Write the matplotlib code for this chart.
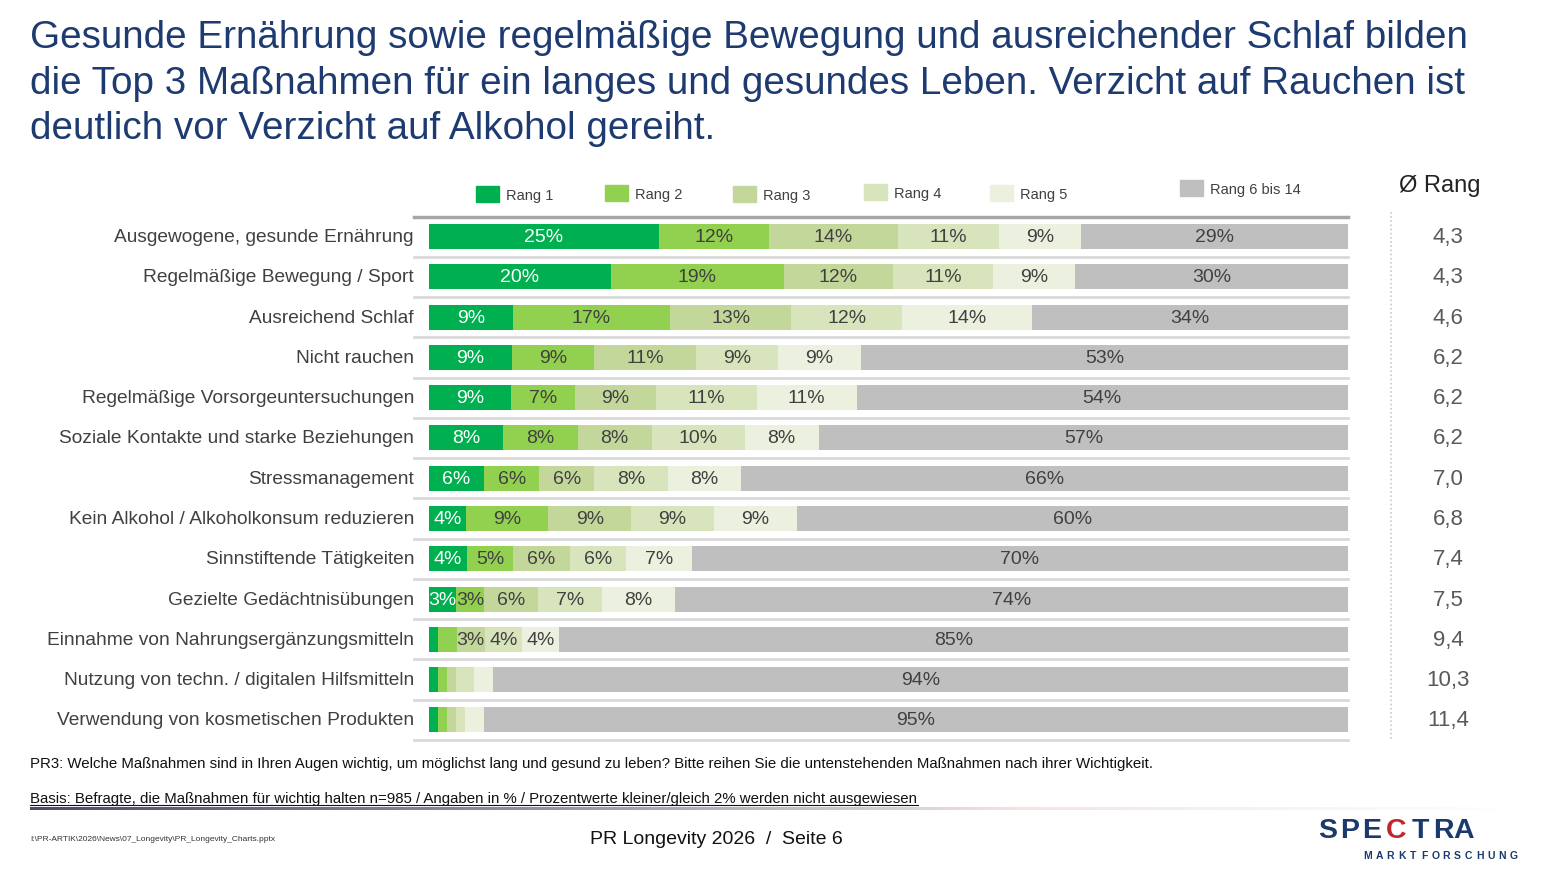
import numpy as np
import matplotlib
matplotlib.use("Agg")
from matplotlib import pyplot as plt
from matplotlib.patches import Rectangle
from matplotlib.colors import LinearSegmentedColormap

plt.rcParams['font.family'] = ['Liberation Sans', 'DejaVu Sans']

W, H = 1547, 870

categories = [
    "Ausgewogene, gesunde Ernährung",
    "Regelmäßige Bewegung / Sport",
    "Ausreichend Schlaf",
    "Nicht rauchen",
    "Regelmäßige Vorsorgeuntersuchungen",
    "Soziale Kontakte und starke Beziehungen",
    "Stressmanagement",
    "Kein Alkohol / Alkoholkonsum reduzieren",
    "Sinnstiftende Tätigkeiten",
    "Gezielte Gedächtnisübungen",
    "Einnahme von Nahrungsergänzungsmitteln",
    "Nutzung von techn. / digitalen Hilfsmitteln",
    "Verwendung von kosmetischen Produkten",
]
rang1 = [25, 20, 9, 9, 9, 8, 6, 4, 4, 3, 1, 1, 1]
rang2 = [12, 19, 17, 9, 7, 8, 6, 9, 5, 3, 2, 1, 1]
rang3 = [14, 12, 13, 11, 9, 8, 6, 9, 6, 6, 3, 1, 1]
rang4 = [11, 11, 12, 9, 11, 10, 8, 9, 6, 7, 4, 2, 1]
rang5 = [9, 9, 14, 9, 11, 8, 8, 9, 7, 8, 4, 2, 2]
rang6_14 = [29, 30, 34, 53, 54, 57, 66, 60, 70, 74, 85, 94, 95]
avg_rang = ["4,3", "4,3", "4,6", "6,2", "6,2", "6,2", "7,0", "6,8", "7,4", "7,5", "9,4", "10,3", "11,4"]

series_names = ["Rang 1", "Rang 2", "Rang 3", "Rang 4", "Rang 5", "Rang 6 bis 14"]
colors = ["#00B050", "#92D050", "#C4D79B", "#D8E4BC", "#EBF1DE", "#BFBFBF"]
text_colors = ["white", "#404040", "#404040", "#404040", "#404040", "#404040"]


def px(x, y):
    return x / W, 1 - y / H


fig = plt.figure(figsize=(W / 100, H / 100), dpi=100)

# title
title = ("Gesunde Ernährung sowie regelmäßige Bewegung und ausreichender Schlaf bilden\n"
         "die Top 3 Maßnahmen für ein langes und gesundes Leben. Verzicht auf Rauchen ist\n"
         "deutlich vor Verzicht auf Alkohol gereiht.")
fig.text(*px(30, 20), title, fontsize=27.8, color="#1D3B70", va="top", ha="left",
         linespacing=1.34)

# bar axes
top_px, bot_px = 217.5, 741.0
l, b = px(429, bot_px)
ax = fig.add_axes([l, b, 919 / W, (bot_px - top_px) / H])
series = [rang1, rang2, rang3, rang4, rang5, rang6_14]
data = np.array(series, dtype=float)
totals = data.sum(axis=0)
y = np.arange(len(categories))
left = np.zeros(len(categories))
for k, vals in enumerate(series):
    widths = np.array(vals) / totals * 100
    ax.barh(y, widths, left=left, height=0.62, color=colors[k], linewidth=0)
    for i, v in enumerate(vals):
        if v > 2:
            ax.text(left[i] + widths[i] / 2, y[i], f"{v}%", ha="center", va="center",
                    fontsize=14, color=text_colors[k])
    left += widths

ax.set_xlim(0, 100)
ax.set_ylim(len(categories) - 0.5, -0.5)
ax.axis("off")

ext = -15 / 919
for i in range(len(categories)):
    ax.axhline(i + 0.5, xmin=ext, xmax=1, color="#D9D9D9", lw=2, clip_on=False, zorder=0)
ax.axhline(-0.5, xmin=ext, xmax=1, color="#A6A6A6", lw=2.5, clip_on=False, zorder=3)

for i, cat in enumerate(categories):
    ax.annotate(cat, xy=(0, y[i]), xycoords=("axes fraction", "data"),
                xytext=(-15, 0), textcoords="offset pixels",
                ha="right", va="center", fontsize=13.8, color="#404040")

# average rank column
for i, r in enumerate(avg_rang):
    ax.annotate(r, xy=(1, y[i]), xycoords=("axes fraction", "data"),
                xytext=(100, 0), textcoords="offset pixels",
                ha="center", va="center", fontsize=16, color="#595959")
fig.text(*px(1440, 186), "Ø Rang", fontsize=17, color="#222222", ha="center", va="center")
fig.add_artist(plt.Line2D([1391 / W, 1391 / W], [1 - 213 / H, 1 - 740 / H],
                          color="#C8C8C8", lw=1.2, ls=(0, (1, 1.5))))

# legend
legend_pos = [(476, 187), (605, 186), (733, 187), (864, 185), (990, 186), (1180, 181)]
for k, name in enumerate(series_names):
    x0, y0 = legend_pos[k]
    fig.add_artist(Rectangle(px(x0, y0 + 16), 23 / W, 16 / H, color=colors[k],
                             transform=fig.transFigure))
    fig.text(*px(x0 + 30, y0 + 9), name, fontsize=10.5, color="#404040", ha="left", va="center")

# footer
fig.text(*px(30, 764), "PR3: Welche Maßnahmen sind in Ihren Augen wichtig, um möglichst lang und "
         "gesund zu leben? Bitte reihen Sie die untenstehenden Maßnahmen nach ihrer Wichtigkeit.",
         fontsize=10.8, color="#111111", ha="left", va="center")
fig.text(*px(30, 799), "Basis: Befragte, die Maßnahmen für wichtig halten n=985 / Angaben in % / "
         "Prozentwerte kleiner/gleich 2% werden nicht ausgewiesen",
         fontsize=10.8, color="#111111", ha="left", va="center")
fig.add_artist(plt.Line2D([30 / W, 918 / W], [1 - 806 / H, 1 - 806 / H], color="#111111", lw=0.8))

gax = fig.add_axes([30 / W, 1 - 811 / H, 1490 / W, 3 / H])
cmap = LinearSegmentedColormap.from_list("fade", ["#4B4B6E", "#8E8EA6", "#F2E6E0", "#FFFFFF"])
gax.imshow(np.linspace(0, 1, 300)[None, :], aspect="auto", cmap=cmap)
gax.axis("off")

fig.text(*px(30, 840), r"I:\PR-ARTIK\2026\News\07_Longevity\PR_Longevity_Charts.pptx",
         fontsize=6, color="#333333", ha="left", va="center")
fig.text(*px(716, 840), "PR Longevity 2026  /  Seite 6", fontsize=14, color="#111111",
         ha="center", va="center")

# logo
logo_x = [1328, 1350, 1372, 1396, 1420, 1443, 1464]
for ch, xx in zip("SPECTRA", logo_x):
    fig.text(*px(xx, 831), ch, fontsize=20.5, fontweight="bold",
             color="#C0272D" if ch == "C" else "#1B3A6B", ha="center", va="center")
for j, ch in enumerate("MARKTFORSCHUNG"):
    fig.text(*px(1368 + j * 11.2, 856), ch, fontsize=7.5, fontweight="bold", color="#1B3A6B",
             ha="center", va="center")

fig.savefig("out.png", dpi=100)
